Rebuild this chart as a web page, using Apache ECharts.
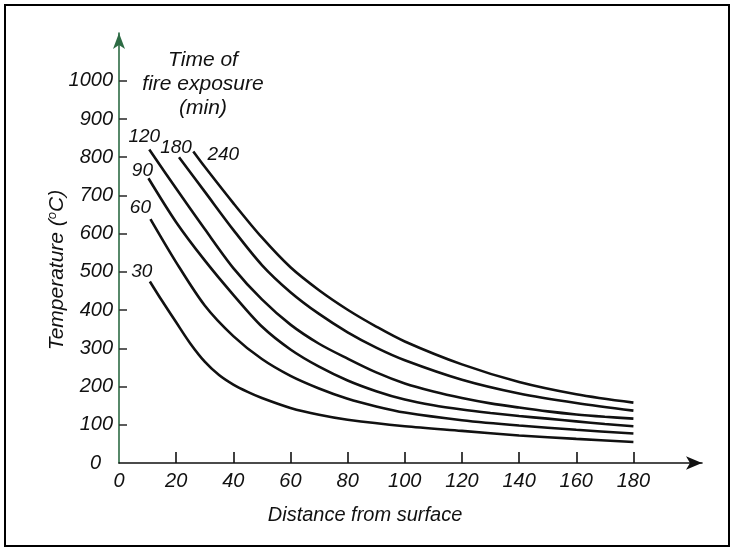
<!DOCTYPE html>
<html>
<head>
<meta charset="utf-8">
<script src="https://cdn.jsdelivr.net/npm/echarts@6/dist/echarts.min.js"></script>
<style>
html,body{margin:0;padding:0;background:#fff;}
#chart{width:734px;height:552px;}
</style>
</head>
<body>
<div id="chart"></div>
<script>
// Distance from surface (x) and temperature (°C) for each fire exposure time (min)
const x30  = [10.8, 15, 20, 25, 30, 35, 40, 45, 50, 60, 70, 80, 100, 120, 140, 160, 180];
const t30  = [475, 425, 368, 312, 265, 230, 205, 186, 170, 144, 126, 113, 96, 84, 72, 63, 55];
const x60  = [11, 20, 30, 40, 50, 60, 70, 80, 90, 100, 120, 140, 160, 180];
const t60  = [638, 525, 412, 332, 272, 228, 195, 168, 148, 132, 112, 98, 87, 77];
const x90  = [10.3, 20, 30, 40, 50, 60, 70, 80, 90, 100, 110, 120, 130, 140, 150, 160, 170, 180];
const t90  = [745, 630, 530, 440, 357, 297, 252, 216, 188, 166, 151, 140, 131, 123, 116, 109, 102, 96];
const x120 = [10.6, 20, 30, 40, 50, 60, 70, 80, 90, 100, 110, 120, 130, 140, 150, 160, 170, 180];
const t120 = [820, 718, 612, 510, 428, 362, 312, 273, 237, 208, 187, 170, 156, 145, 135, 127, 121, 116];
const x180 = [21, 30, 40, 50, 60, 70, 80, 90, 100, 120, 140, 160, 180];
const t180 = [800, 710, 610, 518, 447, 390, 342, 302, 269, 218, 182, 157, 137];
const x240 = [26, 30, 40, 50, 60, 70, 80, 90, 100, 120, 140, 160, 180];
const t240 = [815, 775, 680, 590, 512, 452, 401, 357, 318, 258, 212, 180, 158];

const curveNames = ['30', '60', '90', '120', '180', '240'];
const xTickValues = [0, 20, 40, 60, 80, 100, 120, 140, 160, 180];
const yTickValues = [0, 100, 200, 300, 400, 500, 600, 700, 800, 900, 1000];

const curveX = [x30, x60, x90, x120, x180, x240];
const curveT = [t30, t60, t90, t120, t180, t240];
const labelOffsets = [[-8, -10], [-10, -11], [-6, -8], [-5, -13], [-3, -10], [30, 3]];

const FONT = '"Liberation Sans", Arial, sans-serif';

const series = curveNames.map((name, i) => ({
  name: name,
  type: 'line',
  smooth: 0.3,
  symbol: 'circle',
  symbolSize: 0,
  showSymbol: true,
  silent: true,
  lineStyle: { color: '#111', width: 2.6 },
  itemStyle: { color: '#111' },
  label: { show: false },
  data: curveX[i].map((x, j) => {
    const item = { value: [x, curveT[i][j]] };
    if (j === 0) {
      item.label = {
        show: true, position: 'inside', formatter: name,
        offset: labelOffsets[i], color: '#111',
        fontStyle: 'italic', fontFamily: FONT, fontSize: 19
      };
    }
    return item;
  })
}));

const chart = echarts.init(document.getElementById('chart'), null, { renderer: 'canvas' });
chart.setOption({
  animation: false,
  backgroundColor: '#fff',
  grid: { left: 119, top: 33, width: 583, height: 430, containLabel: false },
  xAxis: {
    type: 'value', min: 0, max: 204,
    splitLine: { show: false },
    axisLine: { show: true, symbol: ['none', 'arrow'], symbolSize: [10, 16], lineStyle: { color: '#111', width: 1.6 } },
    axisTick: { show: true, inside: true, length: 11, customValues: xTickValues.slice(1), lineStyle: { color: '#111', width: 1.6 } },
    axisLabel: { customValues: xTickValues, margin: 8, color: '#111', fontStyle: 'italic', fontFamily: FONT, fontSize: 20,
      formatter: v => String(v) }
  },
  yAxis: {
    type: 'value', min: 0, max: 1125,
    splitLine: { show: false },
    axisLine: { show: true, symbol: ['none', 'arrow'], symbolSize: [9, 16], lineStyle: { color: '#2d6b44', width: 1.6 } },
    axisTick: { show: true, inside: true, length: 8, customValues: yTickValues.slice(1), lineStyle: { color: '#333', width: 1.6 } },
    axisLabel: { customValues: yTickValues, margin: 6, color: '#111', fontStyle: 'italic', fontFamily: FONT, fontSize: 20,
      formatter: v => (v === 0 ? '{z|0}' : String(v)),
      rich: { z: { fontStyle: 'italic', fontFamily: FONT, fontSize: 20, color: '#111', padding: [0, 12, 0, 0] } } }
  },
  graphic: [
    { type: 'rect', shape: { x: 5, y: 5, width: 724, height: 541 }, style: { fill: 'none', stroke: '#000', lineWidth: 2 }, silent: true },
    { type: 'text', x: 365, y: 515, style: { text: 'Distance from surface', fill: '#111', font: 'italic 20px ' + FONT, textAlign: 'center', textVerticalAlign: 'middle' } },
    { type: 'text', x: 57, y: 270, rotation: Math.PI / 2, style: {
        text: 'Temperature ({s|o}C)', fill: '#111', font: 'italic 21px ' + FONT, textAlign: 'center', textVerticalAlign: 'middle',
        rich: { s: { fontSize: 13, fontStyle: 'italic', fontFamily: FONT, verticalAlign: 'top', padding: [0, 0, 9, 0] } } } },
    { type: 'text', x: 203, y: 84, style: { text: 'Time of\nfire exposure\n(min)', fill: '#111', font: 'italic 21px ' + FONT, textAlign: 'center', textVerticalAlign: 'middle', lineHeight: 24 } }
  ],
  series: series
});
</script>
</body>
</html>
